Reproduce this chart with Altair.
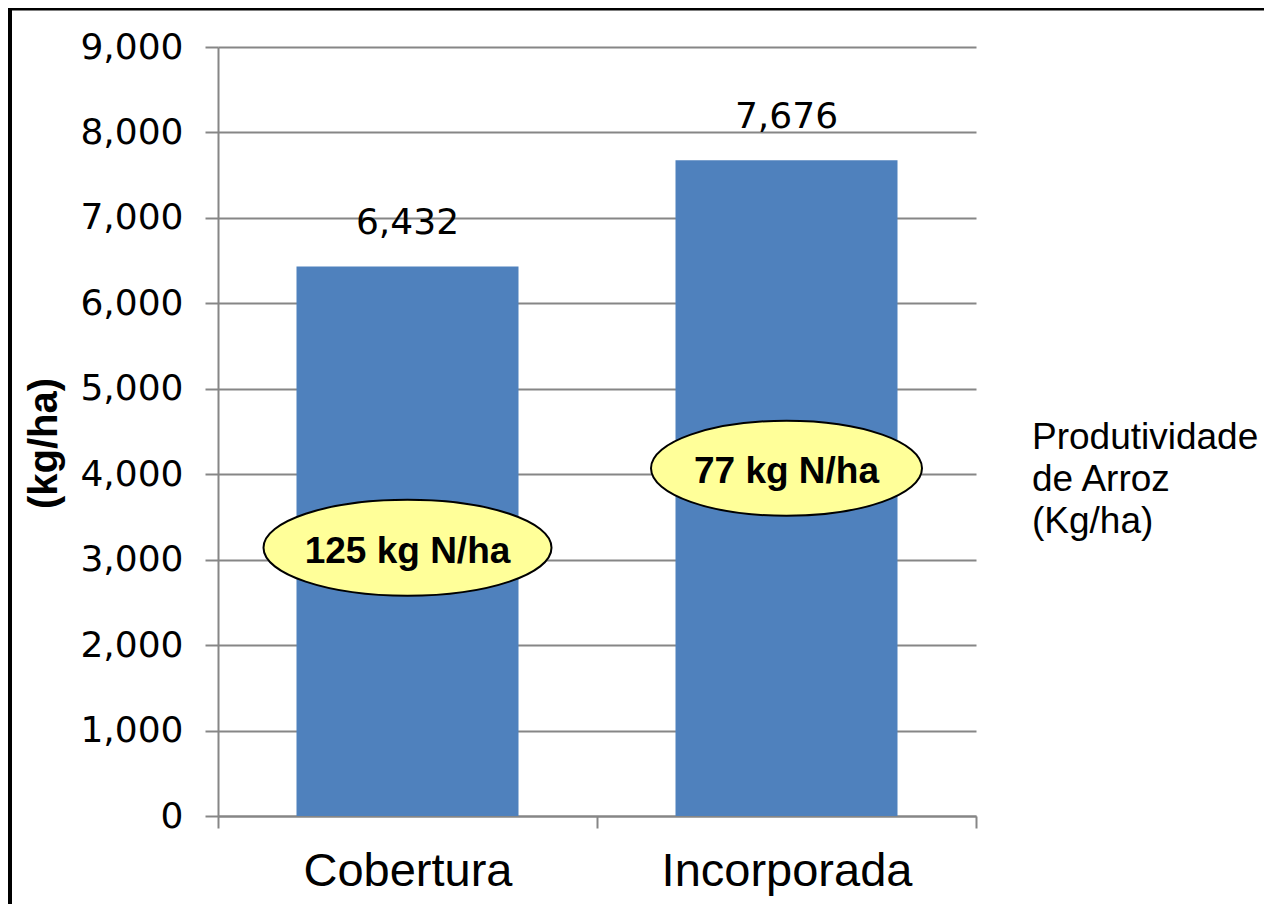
import altair as alt
import pandas as pd

# ---- data ----
categories = ["Cobertura", "Incorporada"]
yields = [6432, 7676]
n_labels = ["125 kg N/ha", "77 kg N/ha"]
n_label_y = [3140, 4070]          # annotation centres (kg/ha units)
legend_lines = ["Produtividade", "de Arroz", "(Kg/ha)"]
y_ticks = [0, 1000, 2000, 3000, 4000, 5000, 6000, 7000, 8000, 9000]

# ---- styling constants ----
W, H = 758, 769
PAD = {"left": 210, "top": 39, "right": 288, "bottom": 88}
GRAY = "#868686"
BAR = "#4F81BD"
ELL_W = [288, 271]
ELL_H = [96, 95]

df = pd.DataFrame({"cat": categories, "value": yields})
ann = pd.DataFrame({
    "cat": categories,
    "label": n_labels,
    "y": n_label_y,
    "shape": [f"M -1 0 A 1 {h / w:.4f} 0 1 0 1 0 A 1 {h / w:.4f} 0 1 0 -1 0 Z"
              for w, h in zip(ELL_W, ELL_H)],
    "size": [w * w for w in ELL_W],
})

yscale = alt.Scale(domain=[0, 9000], nice=False)
yaxis = alt.Axis(
    title="(kg/ha)", values=y_ticks, labelExpr="format(datum.value, ',')",
    labelFont="DejaVu Sans", labelFontSize=36, labelColor="black", labelPadding=22,
    tickSize=13, tickColor=GRAY, tickWidth=2,
    domainColor=GRAY, domainWidth=2,
    grid=True, gridColor=GRAY, gridWidth=2,
    titleFont="Liberation Sans", titleFontSize=40, titleFontWeight="bold",
    titleColor="black", titlePadding=15, titleY=396,
)
xscale = alt.Scale(paddingInner=0, paddingOuter=0)
xaxis = alt.Axis(
    title=None, labelAngle=0, labelFont="Liberation Sans", labelFontSize=47,
    labelColor="black", labelPadding=20, labelLimit=600,
    tickBand="extent", tickSize=12, tickColor=GRAY, tickWidth=2,
    domainColor=GRAY, domainWidth=2, grid=False,
)
X = alt.X("cat:N", sort=categories, scale=xscale, axis=xaxis)

bars = alt.Chart(df).mark_bar(
    color=BAR, width=alt.RelativeBandSize(band=222 / 379)
).encode(x=X, y=alt.Y("value:Q", scale=yscale, axis=yaxis))

vals = alt.Chart(df).mark_text(
    font="DejaVu Sans", fontSize=36, color="black", baseline="middle", dy=-43
).encode(x=X, y=alt.Y("value:Q", scale=yscale, axis=yaxis),
         text=alt.Text("value:Q", format=","))

ellipses = alt.Chart(ann).mark_point(
    filled=True, fill="#FFFF99", stroke="black", strokeWidth=2, opacity=1, fillOpacity=1
).encode(x=X, y=alt.Y("y:Q", scale=yscale, axis=yaxis),
         shape=alt.Shape("shape:N", scale=None, legend=None),
         size=alt.Size("size:Q", scale=None, legend=None))

ell_text = alt.Chart(ann).mark_text(
    font="Liberation Sans", fontSize=37, fontWeight="bold", color="black",
    baseline="middle", dy=4
).encode(x=X, y=alt.Y("y:Q", scale=yscale, axis=yaxis), text="label:N")

one = alt.Data(values=[{}])
legend = alt.Chart(one).mark_text(
    font="Liberation Sans", fontSize=37, color="black", align="left",
    baseline="middle", lineHeight=42
).encode(x=alt.value(814), y=alt.value(391), text=alt.value(legend_lines))

frame_left = alt.Chart(one).mark_rule(color="black", strokeWidth=4).encode(
    x=alt.value(-208), y=alt.value(-39), y2=alt.value(H + PAD["bottom"]))
frame_top = alt.Chart(one).mark_rule(color="black", strokeWidth=3).encode(
    x=alt.value(-210), x2=alt.value(W + PAD["right"]), y=alt.value(-38))

chart = alt.layer(bars, vals, ellipses, ell_text, legend, frame_left, frame_top).properties(
    width=W, height=H,
    autosize=alt.AutoSizeParams(type="none"),
    padding=PAD,
    background="white",
).configure_view(stroke=None)

chart.save("out.html", embed_options={"renderer": "svg", "actions": False})
